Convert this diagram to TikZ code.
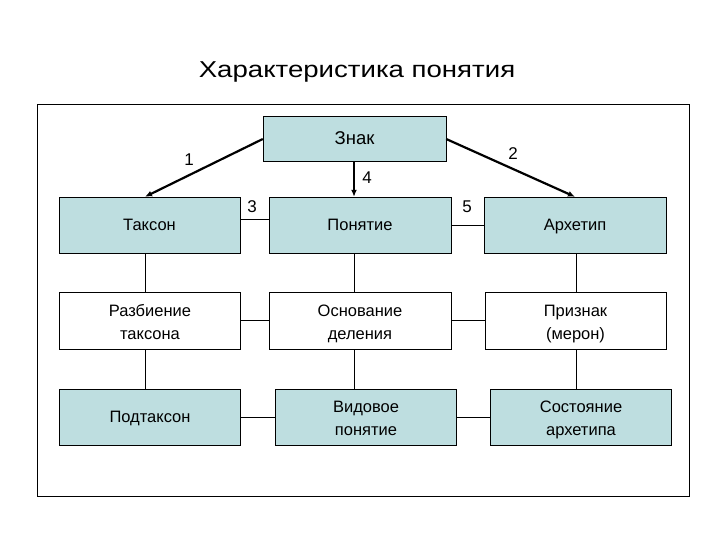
\documentclass[tikz,border=0pt]{standalone}
\usepackage{fontspec}
\setmainfont{Liberation Sans}
\usetikzlibrary{arrows.meta}
\definecolor{boxblue}{RGB}{190,222,224}
\newcommand\boxstrut{\rule[-5pt]{0pt}{21.8pt}}
\newcommand\topstrut{\rule[-5pt]{0pt}{24.6pt}}
\begin{document}
\begin{tikzpicture}[x=1pt, y=-1pt,
  box/.style={shape=rectangle, draw, thin, minimum height=56pt, align=center,
    font=\fontsize{16.5}{21.5}\selectfont,
    execute at begin node=\boxstrut},
  bluebox/.style={box, fill=boxblue},
  whitebox/.style={box, fill=white},
  num/.style={font=\fontsize{17}{19}\selectfont}]
\useasboundingbox (0, 0) rectangle (720, 540);
\node[font=\fontsize{23}{26}\selectfont] (Title) at (357, 72) {\scalebox{1.2}[1]{Характеристика понятия}};
\draw[thin] (37, 104) rectangle (689, 496);
\node[bluebox, minimum width = 183pt, minimum height = 45pt, font=\fontsize{18.5}{22}\selectfont] (Znak) at (354.5, 139) {Знак};
\node[bluebox, minimum width = 181pt] (Takson) at (149.5, 225) {Таксон};
\node[bluebox, minimum width = 182pt] (Ponyatie) at (360, 225) {Понятие};
\node[bluebox, minimum width = 182pt] (Arhetip) at (575, 225) {Архетип};
\node[whitebox, minimum width = 181pt, minimum height = 57pt] (Razb) at (150, 320.5) {\topstrut Разбиение\\таксона\boxstrut};
\node[whitebox, minimum width = 182pt, minimum height = 57pt] (Osnov) at (360, 320.5) {\topstrut Основание\\деления\boxstrut};
\node[whitebox, minimum width = 181pt, minimum height = 57pt] (Priznak) at (575.5, 320.5) {\topstrut Признак\\(мерон)\boxstrut};
\node[bluebox, minimum width = 181pt] (Podtakson) at (150, 417) {Подтаксон};
\node[bluebox, minimum width = 181pt] (Vidovoe) at (366, 417) {\topstrut Видовое\\понятие\boxstrut};
\node[bluebox, minimum width = 181pt] (Sostoyanie) at (581, 417) {\topstrut Состояние\\архетипа\boxstrut};
\draw[-{Latex[length=7pt, width=6pt]}, line width=2.2pt] (Znak.west) -- ([xshift=-4.5pt]Takson.north);
\draw[-{Latex[length=7pt, width=6pt]}, line width=2.2pt] (Znak.east) -- (Arhetip.north);
\draw[-{Latex[length=7pt, width=6pt]}, line width=2.2pt] ([xshift=-0.5pt]Znak.south) -- ([xshift=-0.5pt]Znak.south |- Ponyatie.north);
\draw[thin] ([yshift=6pt]Takson.east) 	 -- ([yshift=6pt]Ponyatie.west);
\draw[thin] (Ponyatie.east) 			 -- (Arhetip.west);
\draw[thin] (Razb.east) 				 -- (Osnov.west);
\draw[thin] (Osnov.east) 				 -- (Priznak.west);
\draw[thin] (Podtakson.east) 			 -- (Vidovoe.west);
\draw[thin] (Vidovoe.east) 			 -- (Sostoyanie.west);
\draw[thin] ([xshift=-4.5pt]Takson.south)	 -- ([xshift=-4.5pt]Takson.south |- Razb.north);
\draw[thin] ([xshift=-5pt]Razb.south) 	 -- ([xshift=-5pt]Podtakson.north);
\draw[thin] ([xshift=-5.5pt]Ponyatie.south) -- ([xshift=-5.5pt]Osnov.north);
\draw[thin] ([xshift=-5.5pt]Osnov.south)  -- ([xshift=-5.5pt]Osnov.south |- Vidovoe.north);
\draw[thin] ([xshift=1pt]Arhetip.south)  -- ([xshift=1pt]Arhetip.south |- Priznak.north);
\draw[thin] ([xshift=1pt]Priznak.south)  -- ([xshift=1pt]Priznak.south |- Sostoyanie.north);
\node[num] (L1) at (189, 160) {1};
\node[num] (L2) at (513, 154) {2};
\node[num] (L3) at (252, 207) {3};
\node[num] (L4) at (367, 178) {4};
\node[num] (L5) at (467, 207) {5};
\end{tikzpicture}
\end{document}
